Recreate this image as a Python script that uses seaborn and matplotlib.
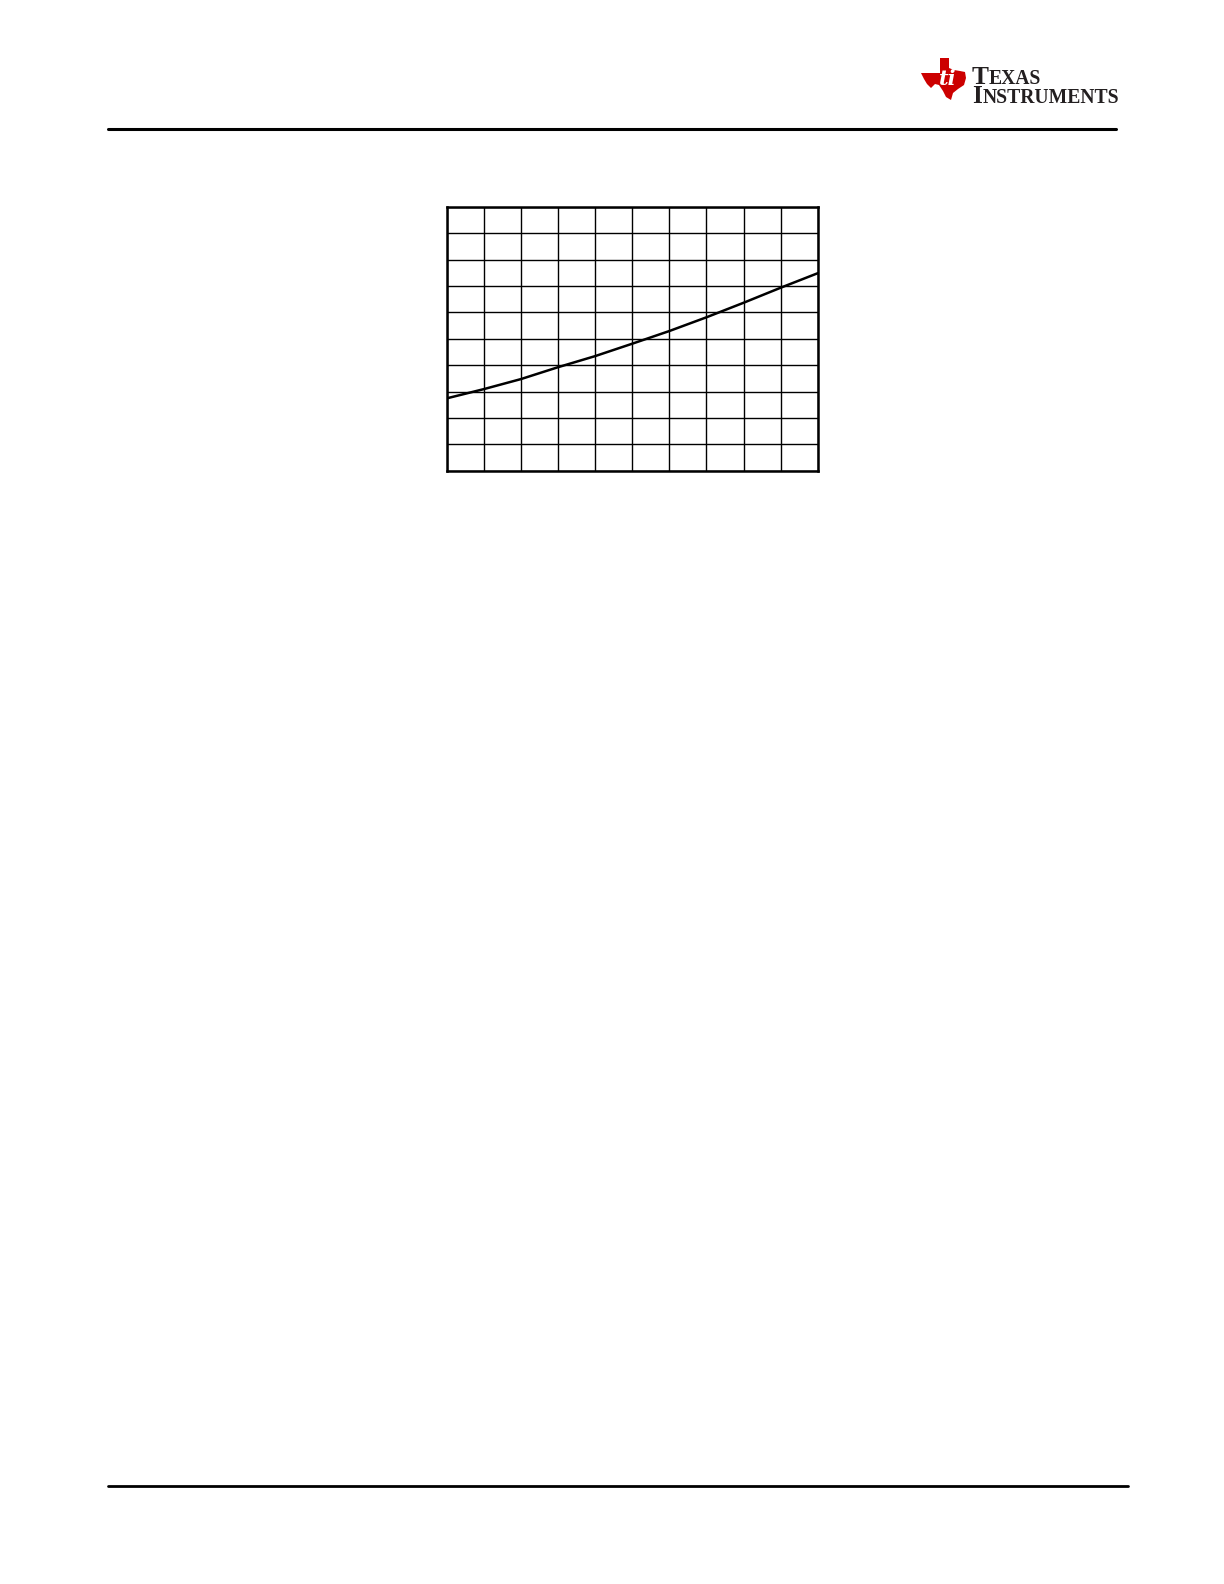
import matplotlib
matplotlib.use("Agg")
import matplotlib.pyplot as plt
import seaborn as sns
import pandas as pd
from matplotlib.lines import Line2D
from matplotlib.patches import Polygon

# curve values (10 x 10 divisions, no labels shown)
x_vals = [0, 1, 2, 3, 4, 5, 6, 7, 8, 9, 10]
y_vals = [2.74, 3.09, 3.47, 3.92, 4.34, 4.81, 5.29, 5.81, 6.36, 6.93, 7.48]
grid_ticks = list(range(11))

W, H = 1224, 1584


def px(x, y):
    # page pixel coords (top-left origin) -> figure fraction
    return x / W, 1 - y / H


sns.set_style("white")
plt.rcParams['font.family'] = ['Liberation Serif', 'DejaVu Serif']

fig = plt.figure(figsize=(W / 100, H / 100), dpi=100)
fig.patch.set_facecolor('white')

# plot area
left, bottom = px(446.7, 470.7)
ax = fig.add_axes([left, bottom, 371 / W, 264 / H])

df = pd.DataFrame({'x': x_vals, 'y': y_vals})
sns.lineplot(data=df, x='x', y='y', ax=ax, color='black', linewidth=1.8, zorder=3)

ax.set_xlim(0, 10)
ax.set_ylim(0, 10)
ax.set_xticks(grid_ticks)
ax.set_yticks(grid_ticks)
ax.set_xticklabels([])
ax.set_yticklabels([])
ax.tick_params(length=0)
ax.set_xlabel('')
ax.set_ylabel('')
ax.grid(True, color='black', linewidth=1.0)
for s in ax.spines.values():
    s.set_visible(True)
    s.set_color('black')
    s.set_linewidth(1.8)

# header and footer rules
x0, y0 = px(108, 129.2)
x1, _ = px(1116, 129.2)
fig.add_artist(Line2D([x0, x1], [y0, y0], color='black', linewidth=2.2,
                      transform=fig.transFigure))
x0, y0 = px(108, 1486.3)
x1, _ = px(1128, 1486.3)
fig.add_artist(Line2D([x0, x1], [y0, y0], color='black', linewidth=2.0,
                      transform=fig.transFigure))

# logo: rough state outline with "ti"
texas = [(940, 58), (949, 58), (949, 68), (954, 70), (960, 71), (965, 72),
         (966, 78), (964, 85), (958, 89), (953, 93), (951, 100), (946, 97),
         (943, 91), (939, 85), (935, 84), (931, 88), (927, 84), (924, 79),
         (921, 73), (940, 73)]
fig.add_artist(Polygon([px(a, b) for a, b in texas], closed=True,
                       facecolor='#CC0000', edgecolor='none',
                       transform=fig.transFigure))
tx, ty = px(948, 79)
fig.text(tx, ty, 'ti', color='white', fontsize=15, fontweight='bold',
         fontstyle='italic', ha='center', va='center', family='DejaVu Serif')

# logo wordmark in small caps
tx, ty = px(972, 84.5)
t1 = fig.text(tx, ty, 'T', fontsize=18.3, color='#231F20', va='baseline',
              fontweight='bold')
fig.canvas.draw()
bb = t1.get_window_extent()
fig.text((bb.x1 - 0.5) / W, ty, 'EXAS', fontsize=14.1, color='#231F20',
         va='baseline', fontweight='bold')

tx, ty = px(972, 103)
t2 = fig.text(tx, ty, 'I', fontsize=18.3, color='#231F20', va='baseline',
              fontweight='bold')
fig.canvas.draw()
bb = t2.get_window_extent()
fig.text((bb.x1 + 0.5) / W, ty, 'NSTRUMENTS', fontsize=14.1, color='#231F20',
         va='baseline', fontweight='bold')

fig.savefig('out.png', dpi=100, facecolor='white')
